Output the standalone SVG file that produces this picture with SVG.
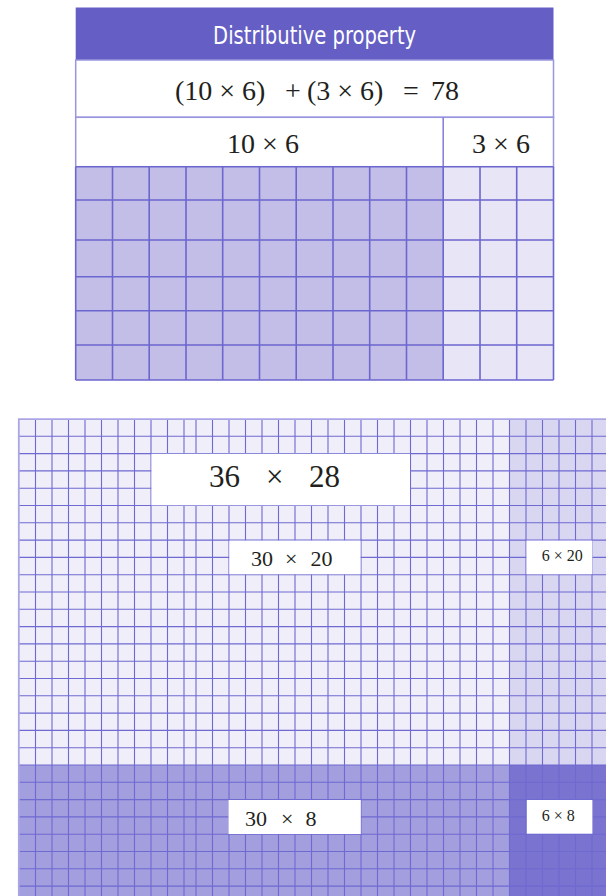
<svg xmlns="http://www.w3.org/2000/svg" width="606" height="896" viewBox="0 0 606 896">
<style>
.serif{font-family:"Liberation Serif","Times New Roman",serif;fill:#231f20}
.tline{fill:none;stroke:#6c66cf;stroke-width:1.6}
.gline{fill:none;stroke:#6f69d2;stroke-width:1.1}
.lbl{fill:#ffffff}
</style>
<rect width="606" height="896" fill="#ffffff"/>
<g id="table">
  <rect x="75.7" y="7.5" width="477.8" height="52.5" fill="#655ec4"/>
  <text x="314.6" y="43.5" text-anchor="middle" textLength="203" lengthAdjust="spacingAndGlyphs" font-family="'Liberation Sans Narrow','DejaVu Sans Condensed','Liberation Sans',sans-serif" font-size="24" fill="#ffffff">Distributive property</text>
  <rect x="75.7" y="60" width="477.8" height="57.3" fill="#ffffff" stroke="#9a95df" stroke-width="1.5"/>
  <text class="serif" font-size="28" y="100"><tspan x="175">(10 × 6)</tspan><tspan x="285">+</tspan><tspan x="307">(3 × 6)</tspan><tspan x="403">=</tspan><tspan x="431">78</tspan></text>
  <rect x="75.7" y="117.3" width="477.8" height="49.4" fill="#ffffff" stroke="#9a95df" stroke-width="1.5"/>
  <line x1="443.2" y1="117.3" x2="443.2" y2="166.7" stroke="#8a84d8" stroke-width="1.6"/>
  <text class="serif" font-size="28" x="263" y="153" text-anchor="middle">10 × 6</text>
  <text class="serif" font-size="28" x="501" y="153" text-anchor="middle">3 × 6</text>
  <rect x="75.7" y="166.7" width="367.5" height="213.3" fill="#c3bee8"/>
  <rect x="443.2" y="166.7" width="110.3" height="213.3" fill="#e7e5f6"/>
  <path class="tline" d="M75.7 166.7V380M112.5 166.7V380M149.2 166.7V380M186 166.7V380M222.7 166.7V380M259.5 166.7V380M296.2 166.7V380M333 166.7V380M369.7 166.7V380M406.5 166.7V380M443.2 166.7V380M480 166.7V380M516.7 166.7V380M553.5 166.7V380M75.7 166.7H553.5M75.7 200H553.5M75.7 240H553.5M75.7 276.7H553.5M75.7 310.7H553.5M75.7 345H553.5M75.7 380H553.5"/>
</g>
<g id="area-grid">
  <rect x="19" y="419" width="490.5" height="346" fill="#efeef9"/>
  <rect x="509.5" y="419" width="96.5" height="346" fill="#d9d6f2"/>
  <rect x="19" y="765" width="490.5" height="131" fill="#a39edd"/>
  <rect x="509.5" y="765" width="96.5" height="131" fill="#7a73cf"/>
  <path class="gline" d="M35.5 419V896M52 419V896M68.5 419V896M85 419V896M101.5 419V896M118 419V896M134.5 419V896M151 419V896M167.5 419V896M184 419V896M196 419V896M212.5 419V896M229 419V896M245.5 419V896M262 419V896M278.5 419V896M295 419V896M311.5 419V896M328 419V896M344.5 419V896M361 419V896M377.5 419V896M394 419V896M410.5 419V896M427 419V896M443.5 419V896M460 419V896M476.5 419V896M493 419V896M509.5 419V896M526 419V896M542.5 419V896M559 419V896M575.5 419V896M592 419V896
  M19 436.3H606M19 453.6H606M19 470.9H606M19 488.2H606M19 505.5H606M19 522.8H606M19 540.1H606M19 557.4H606M19 574.7H606M19 592H606M19 609.3H606M19 626.6H606M19 643.9H606M19 661.2H606M19 678.5H606M19 695.8H606M19 713.1H606M19 730.4H606M19 747.7H606M19 765H606M19 782.3H606M19 799.6H606M19 816.9H606M19 834.2H606M19 851.5H606M19 868.8H606M19 886.1H606"/>
  <path d="M18.8 896V419.2H606" fill="none" stroke="#aaa5e4" stroke-width="1.8"/>
</g>
<g id="label-36x28">
  <rect class="lbl" x="151.5" y="453.8" width="258.5" height="51.5"/>
  <text class="serif" font-size="31" y="487"><tspan x="209">36</tspan><tspan x="266">×</tspan><tspan x="309">28</tspan></text>
</g>
<g id="label-30x20">
  <rect class="lbl" x="229.3" y="540.6" width="131.2" height="33.6"/>
  <text class="serif" font-size="22" y="566"><tspan x="251">30</tspan><tspan x="285">×</tspan><tspan x="310.5">20</tspan></text>
</g>
<g id="label-6x20">
  <rect class="lbl" x="526.5" y="540.6" width="65.8" height="33.6"/>
  <text class="serif" font-size="16" x="541.7" y="561">6 × 20</text>
</g>
<g id="label-30x8">
  <rect class="lbl" x="228.5" y="800" width="132.3" height="34"/>
  <text class="serif" font-size="22" y="826"><tspan x="245">30</tspan><tspan x="281">×</tspan><tspan x="305.5">8</tspan></text>
</g>
<g id="label-6x8">
  <rect class="lbl" x="526.8" y="800" width="65.6" height="33.7"/>
  <text class="serif" font-size="16" x="541.7" y="821">6 × 8</text>
</g>
</svg>
